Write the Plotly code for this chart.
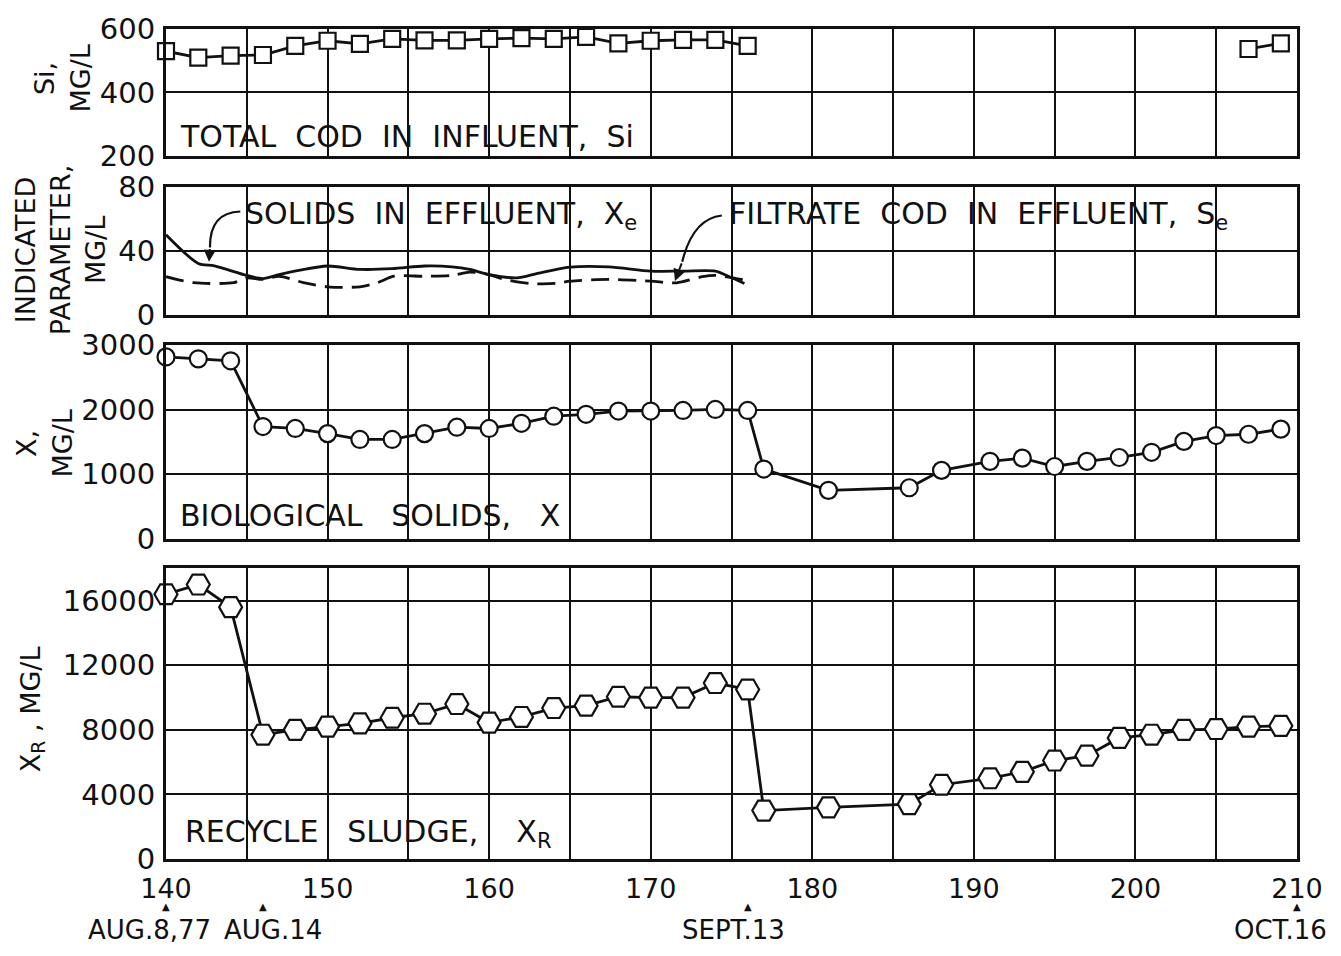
import plotly.graph_objects as go

# ---------------- data ----------------
# Panel 1: total COD in influent, Si (mg/L)
si_days = [140, 142, 144, 146, 148, 150, 152, 154, 156, 158, 160, 162, 164, 166, 168, 170, 172, 174, 176, None, 207, 209]
si_values = [530, 510, 516, 518, 547, 563, 553, 569, 564, 564, 569, 571, 569, 575, 555, 563, 566, 566, 547, None, 537, 555]

# Panel 2: solids in effluent, Xe (mg/L)
xe_days = [140, 142, 143, 145, 146, 147, 148.3, 150, 152, 154, 156, 157.7, 158.8, 160, 161.7, 163, 165, 167.4, 170, 172, 174, 174.7, 175.8]
xe_values = [50, 32, 30.5, 24.5, 22.5, 25, 27.8, 30.4, 28.3, 28.7, 30.4, 29.9, 28.3, 25, 23, 25.8, 29.7, 29.9, 27.2, 27.2, 27.2, 24.5, 19.5]

# Panel 2: filtrate COD in effluent, Se (mg/L)
se_days = [140, 141.7, 144.2, 145, 146, 147, 148.5, 150, 152, 153.1, 154.1, 156, 157.7, 158.8, 160, 160.8, 162.5, 164.1, 165, 167.4, 170, 171.6, 173.2, 174, 175.8]
se_values = [23.7, 20, 20, 23, 22, 24, 20, 17.4, 17.4, 20, 24, 24, 24.5, 26.6, 25, 22.4, 19.5, 19.5, 20.9, 22, 20.9, 19.9, 23.7, 24.5, 21.6]

# Panel 3: biological solids, X (mg/L)
x_days = [140, 142, 144, 146, 148, 150, 152, 154, 156, 158, 160, 162, 164, 166, 168, 170, 172, 174, 176,
          177, 181, 186, 188, 191, 193, 195, 197, 199, 201, 203, 205, 207, 209]
x_values = [2820, 2790, 2760, 1740, 1710, 1630, 1540, 1540, 1630, 1730, 1710, 1790, 1900, 1930, 1980, 1980, 1990, 2005, 1990,
            1080, 750, 790, 1060, 1200, 1250, 1120, 1200, 1260, 1340, 1510, 1600, 1620, 1700]

# Panel 4: recycle sludge, XR (mg/L)
xr_days = [140, 142, 144, 146, 148, 150, 152, 154, 156, 158, 160, 162, 164, 166, 168, 170, 172, 174, 176,
           177, 181, 186, 188, 191, 193, 195, 197, 199, 201, 203, 205, 207, 209]
xr_values = [16400, 17000, 15600, 7700, 8000, 8200, 8400, 8750, 9000, 9600, 8450, 8800, 9350, 9500, 10050, 10000, 10000, 10900, 10500,
             3000, 3200, 3400, 4600, 5000, 5400, 6100, 6400, 7500, 7700, 8000, 8050, 8200, 8250]

x_ticks = [140, 150, 160, 170, 180, 190, 200, 210]
x_minor = [145, 155, 165, 175, 185, 195, 205]
y1_ticks = [200, 400, 600]
y2_ticks = [0, 40, 80]
y3_ticks = [0, 1000, 2000, 3000]
y4_ticks = [0, 4000, 8000, 12000, 16000]

date_days = [140, 146, 176, 210]
date_labels = ["AUG.8,77", "AUG.14", "SEPT.13", "OCT.16"]
date_label_days = [139.0, 146.6, 175.1, 209.0]

# ---------------- style ----------------
FONT = "DejaVu Sans"
INK = "#111111"
LW = 2.8

fig = go.Figure()

fig.add_trace(go.Scatter(x=si_days, y=si_values, xaxis="x", yaxis="y", mode="lines+markers",
                         line=dict(color=INK, width=LW), connectgaps=False, cliponaxis=False,
                         marker=dict(symbol="square", size=16, color="white", line=dict(color=INK, width=2.2))))
fig.add_trace(go.Scatter(x=xe_days, y=xe_values, xaxis="x2", yaxis="y2", mode="lines",
                         line=dict(color=INK, width=LW, shape="spline", smoothing=0.8)))
fig.add_trace(go.Scatter(x=se_days, y=se_values, xaxis="x2", yaxis="y2", mode="lines",
                         line=dict(color=INK, width=LW, shape="spline", smoothing=0.8, dash="18px,9px")))
fig.add_trace(go.Scatter(x=x_days, y=x_values, xaxis="x3", yaxis="y3", mode="lines+markers",
                         line=dict(color=INK, width=LW), cliponaxis=False,
                         marker=dict(symbol="circle", size=17, color="white", line=dict(color=INK, width=2.2))))
fig.add_trace(go.Scatter(x=xr_days, y=xr_values, xaxis="x4", yaxis="y4", mode="lines+markers",
                         line=dict(color=INK, width=LW), cliponaxis=False,
                         marker=dict(symbol="hexagon2", size=23, color="white", line=dict(color=INK, width=2.2))))

TICKFONT = dict(family=FONT, size=29, color=INK)
axis_common = dict(showline=True, mirror=True, linecolor=INK, linewidth=3.2,
                   showgrid=True, gridcolor=INK, gridwidth=1.8, zeroline=False,
                   ticks="", tickfont=TICKFONT)

domains = {1: [0.8471, 1.0], 2: [0.6559, 0.8100], 3: [0.3859, 0.6189], 4: [0.0, 0.3501]}
yranges = {1: [200, 600], 2: [0, 80], 3: [0, 3000], 4: [0, 18000]}
yticks = {1: y1_ticks, 2: y2_ticks, 3: y3_ticks, 4: y4_ticks}

layout = dict(
    width=1341, height=956,
    margin=dict(l=166, r=44, t=22, b=97),
    paper_bgcolor="white", plot_bgcolor="white",
    showlegend=False,
    font=dict(family=FONT, color=INK),
)
for i in range(1, 5):
    xa = "xaxis" if i == 1 else f"xaxis{i}"
    ya = "yaxis" if i == 1 else f"yaxis{i}"
    layout[xa] = dict(axis_common, range=[140, 210], domain=[0, 1],
                      anchor="y" if i == 1 else f"y{i}",
                      tickmode="array", tickvals=x_ticks, ticktext=[str(v) for v in x_ticks],
                      tickfont=dict(family=FONT, size=27, color=INK),
                      showticklabels=(i == 4), ticklabelstandoff=3,
                      minor=dict(tickmode="array", tickvals=x_minor, showgrid=True, gridcolor=INK, gridwidth=1.8))
    layout[ya] = dict(axis_common, range=yranges[i], domain=domains[i],
                      anchor="x" if i == 1 else f"x{i}",
                      tickmode="array", tickvals=yticks[i], ticktext=[str(v) for v in yticks[i]],
                      ticklabelstandoff=2)
fig.update_layout(**layout)


def px(xp):
    # pixel x -> paper x
    return (xp - 166) / 1131


def py(yp):
    # pixel y -> paper y
    return (859 - yp) / 837


LBL = dict(family=FONT, size=30, color=INK)
TT = dict(family=FONT, size=27, color=INK)
ann = []
# panel labels
ann.append(dict(text="TOTAL  COD  IN  INFLUENT,  Si", x=140.75, y=262, xref="x", yref="y",
                xanchor="left", yanchor="middle", showarrow=False, font=LBL))
ann.append(dict(text="SOLIDS  IN  EFFLUENT,  X<sub>e</sub>", x=144.75, y=62, xref="x2", yref="y2",
                xanchor="left", yanchor="middle", showarrow=False, font=LBL))
ann.append(dict(text="FILTRATE  COD  IN  EFFLUENT,  S<sub>e</sub>", x=174.7, y=62, xref="x2", yref="y2",
                xanchor="left", yanchor="middle", showarrow=False, font=LBL))
ann.append(dict(text="BIOLOGICAL   SOLIDS,   X", x=140.75, y=360, xref="x3", yref="y3",
                xanchor="left", yanchor="middle", showarrow=False, font=LBL))
ann.append(dict(text="RECYCLE   SLUDGE,    X<sub>R</sub>", x=141.05, y=1600, xref="x4", yref="y4",
                xanchor="left", yanchor="middle", showarrow=False, font=LBL))

# leader arrow heads (panel 2)
ann.append(dict(x=142.66, y=33, ax=142.72, ay=42, xref="x2", yref="y2", axref="x2", ayref="y2",
                text="", showarrow=True, arrowhead=2, arrowsize=1.2, arrowwidth=2, arrowcolor=INK))
ann.append(dict(x=171.5, y=21, ax=171.95, ay=33, xref="x2", yref="y2", axref="x2", ayref="y2",
                text="", showarrow=True, arrowhead=2, arrowsize=1.2, arrowwidth=2, arrowcolor=INK))

# y-axis titles
ann.append(dict(text="Si,<br>MG/L", x=px(62), y=py(72), xref="paper", yref="paper",
                xanchor="center", yanchor="middle", showarrow=False, textangle=-90, font=TT))
ann.append(dict(text="INDICATED<br>PARAMETER,<br>MG/L", x=px(60), y=py(245), xref="paper", yref="paper",
                xanchor="center", yanchor="middle", showarrow=False, textangle=-90, font=TT))
ann.append(dict(text="X,<br>MG/L", x=px(44), y=py(440), xref="paper", yref="paper",
                xanchor="center", yanchor="middle", showarrow=False, textangle=-90, font=TT))
ann.append(dict(text="X<sub>R</sub> , MG/L", x=px(32), y=py(708), xref="paper", yref="paper",
                xanchor="center", yanchor="middle", showarrow=False, textangle=-90, font=TT))

# date markers below the axis
for d in date_days:
    ann.append(dict(text="▲", x=px(166 + (d - 140) * 1131 / 70), y=py(907), xref="paper", yref="paper",
                    xanchor="center", yanchor="middle", showarrow=False,
                    font=dict(family=FONT, size=10, color=INK)))
for d, lab in zip(date_label_days, date_labels):
    ann.append(dict(text=lab, x=px(166 + (d - 140) * 1131 / 70), y=py(931), xref="paper", yref="paper",
                    xanchor="center", yanchor="middle", showarrow=False,
                    font=dict(family=FONT, size=26, color=INK)))

fig.update_layout(annotations=ann)

# curved leader lines in panel 2
fig.add_shape(type="path", xref="x2", yref="y2",
              path="M 144.6,64.5 Q 142.7,64 142.72,42", line=dict(color=INK, width=2.2))
fig.add_shape(type="path", xref="x2", yref="y2",
              path="M 174.4,62 Q 172.6,60 171.95,33", line=dict(color=INK, width=2.2))

fig.write_html("out.html")
